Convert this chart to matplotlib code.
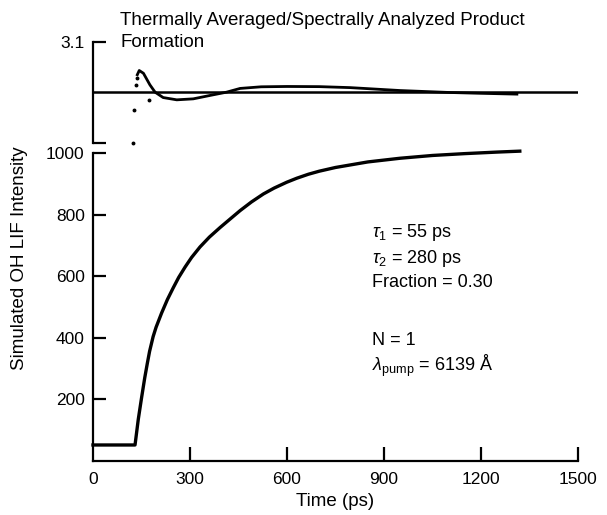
"""Simulated OH LIF rise with residual panel on top."""
import matplotlib.pyplot as plt
import matplotlib as mpl

mpl.rcParams.update({
    "font.family": ["Liberation Sans", "DejaVu Sans"],
    "font.size": 12,
    "mathtext.fontset": "custom",
    "mathtext.rm": "Liberation Sans",
    "mathtext.it": "Liberation Sans:italic",
    "axes.linewidth": 1.6,
})

# fitted intensity curve
t_fit = [0, 130, 140, 150, 160, 168, 175, 186, 195, 212, 230, 248, 265,
         285, 305, 331, 360, 393, 420, 455, 490, 527, 560, 599, 630, 666,
         700, 750, 850, 950, 1050, 1150, 1250, 1320]
I_fit = [52, 52, 135, 204, 270, 317, 356, 404, 434, 480, 524, 562, 596,
         630, 661, 695, 727, 758, 782, 813, 841, 867, 886, 905, 918, 931,
         941, 953, 971, 983, 992, 998, 1003, 1006]

# residuals, top panel
t_res = [137, 143, 156, 176, 192, 217, 259, 310, 362, 413, 455, 520, 600,
         700, 795, 950, 1104, 1200, 1311]
r_res = [1.09, 1.35, 1.18, 0.47, 0.02, -0.31, -0.45, -0.39, -0.18, 0.02,
         0.25, 0.35, 0.37, 0.36, 0.30, 0.12, 0.0, -0.05, -0.10]
t_dots = [124, 127, 133, 136, 173]
r_dots = [-3.1, -1.1, 0.49, 0.86, -0.43]

x_ticks = [0, 300, 600, 900, 1200, 1500]
y_ticks = [200, 400, 600, 800, 1000]

W, H = 607, 515
fig = plt.figure(figsize=(W / 100, H / 100), dpi=100)


def box(x0, y0, x1, y1):
    return [x0 / W, 1 - y1 / H, (x1 - x0) / W, (y1 - y0) / H]


ax = fig.add_axes(box(93, 153, 578, 461))
top = fig.add_axes(box(93, 42, 578, 143), sharex=ax)

# main panel
ax.plot(t_fit, I_fit, color="black", lw=2.4, clip_on=False,
        solid_joinstyle="round")
ax.set_xlim(0, 1500)
ax.set_ylim(0, 1000)
for s in ("top", "right"):
    ax.spines[s].set_visible(False)
ax.set_xticks(x_ticks)
ax.set_yticks(y_ticks)
ax.tick_params(axis="x", direction="in", length=10, width=1.6, pad=8,
               labelsize=12.5)
ax.tick_params(axis="y", direction="in", length=9, width=1.6, pad=6,
               labelsize=12.5)
ax.xaxis.get_major_ticks()[0].tick1line.set_visible(False)
ax.set_xlabel("Time (ps)", fontsize=13.5, labelpad=4)

ann = dict(fontsize=13, va="center", ha="left")
ax.text(863, 743, r"$\tau_1$ = 55 ps", **ann)
ax.text(863, 659, r"$\tau_2$ = 280 ps", **ann)
ax.text(863, 578, "Fraction = 0.30", **ann)
ax.text(863, 390, "N = 1", **ann)
ax.text(863, 308, r"$\lambda_{\mathrm{pump}}$ = 6139 Å", **ann)

# residual panel
top.axhline(0, color="black", lw=1.8)
top.plot(t_res, r_res, color="black", lw=2.0, solid_joinstyle="round")
top.plot(t_dots, r_dots, "o", color="black", ms=1.8, clip_on=False)
top.set_ylim(-3.1, 3.1)
for s in ("top", "right", "bottom"):
    top.spines[s].set_visible(False)
top.set_yticks([-3.1, 3.1])
top.set_yticklabels(["", "3.1"])
top.tick_params(axis="y", direction="in", length=9, width=1.6, pad=6,
                labelsize=12.5)
top.tick_params(axis="x", bottom=False, labelbottom=False)

fig.text(120 / W, 1 - 12 / H,
         "Thermally Averaged/Spectrally Analyzed Product\nFormation",
         ha="left", va="top", fontsize=13.5, linespacing=1.35)
fig.text(20 / W, 1 - 258 / H, "Simulated OH LIF Intensity", rotation=90,
         ha="center", va="center", fontsize=13.5)

fig.savefig("out.png", dpi=100, facecolor="white")
